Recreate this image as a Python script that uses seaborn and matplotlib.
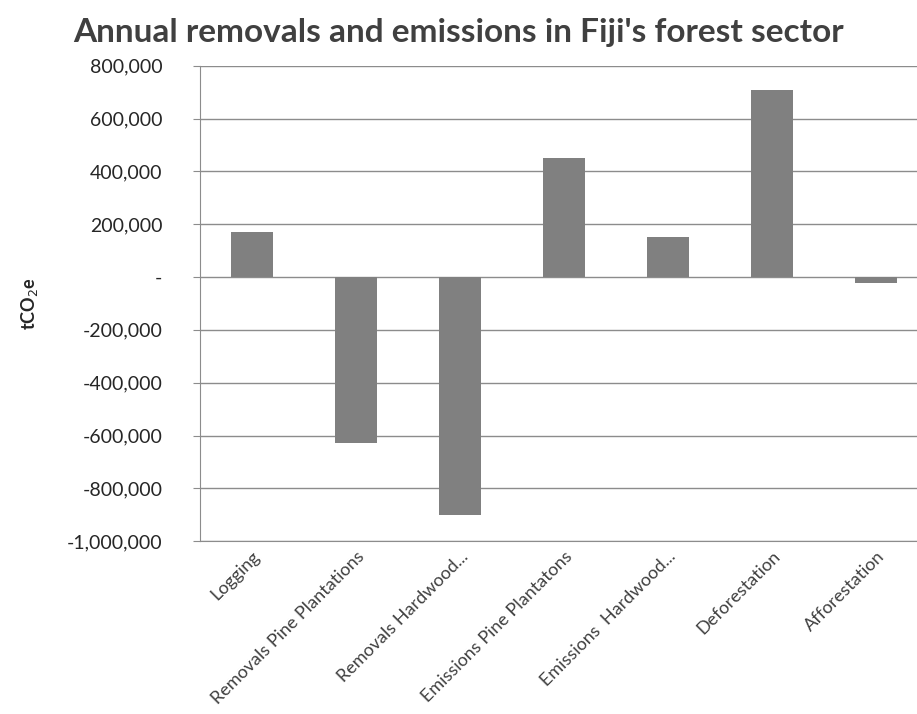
import numpy as np
import pandas as pd
import matplotlib
matplotlib.use("Agg")
import matplotlib.pyplot as plt
from matplotlib.ticker import FuncFormatter
import seaborn as sns

# Values (tCO2e)
categories = ["Logging", "Removals Pine Plantations", "Removals Hardwood...",
              "Emissions Pine Plantatons", "Emissions  Hardwood...",
              "Deforestation", "Afforestation"]
values = [170000, -630000, -900000, 452000, 152000, 707000, -23000]

df = pd.DataFrame({"category": categories, "tco2e": values})

sns.set_style("white")
plt.rcParams['font.family'] = ['Lato', 'DejaVu Sans']

fig = plt.figure(figsize=(9.17, 7.14), dpi=100)
ax = fig.add_axes([0.218, 0.242, 0.794, 0.666])

sns.barplot(data=df, x="category", y="tco2e", color="#808080", saturation=1,
            width=0.4, linewidth=0, ax=ax, zorder=3)

ax.set_ylim(-1000000, 800000)
ax.set_xlim(-0.5, 6.5)
ax.set_yticks(np.arange(-1000000, 800001, 200000))
ax.yaxis.set_major_formatter(FuncFormatter(lambda v, p: "-" if v == 0 else f"{v:,.0f}"))
ax.grid(axis="y", color="#8c8c8c", linewidth=1, zorder=0)
ax.set_axisbelow(True)

for s in ["top", "right"]:
    ax.spines[s].set_visible(False)
for s in ["left", "bottom"]:
    ax.spines[s].set_color("#8c8c8c")

# tick marks sit on the category boundaries, labels on the centres
ax.set_xticks(np.arange(-0.5, 6.6, 1), minor=False)
ax.set_xticklabels([])
ax.set_xticks(np.arange(0, 7), minor=True)
ax.set_xticklabels(categories, minor=True, rotation=45, ha="right",
                   rotation_mode="anchor", fontsize=13, color="#404040")
ax.tick_params(axis="x", which="major", length=6, color="#8c8c8c", direction="out")
ax.tick_params(axis="x", which="minor", length=0, pad=5)
ax.tick_params(axis="y", length=5, color="#8c8c8c", labelsize=14, pad=22,
               labelcolor="#262626", left=True, direction="out")

ax.set_xlabel("")
ax.set_ylabel("tCO$_2$e", fontsize=13, fontweight="bold", color="#262626",
              rotation=90, va="center")
ax.yaxis.set_label_coords(-0.234, 0.5)
fig.text(0.5, 0.955, "Annual removals and emissions in Fiji's forest sector",
         ha="center", va="center", fontsize=24, fontweight="bold", color="#404040")

fig.savefig("out.png", dpi=100)
